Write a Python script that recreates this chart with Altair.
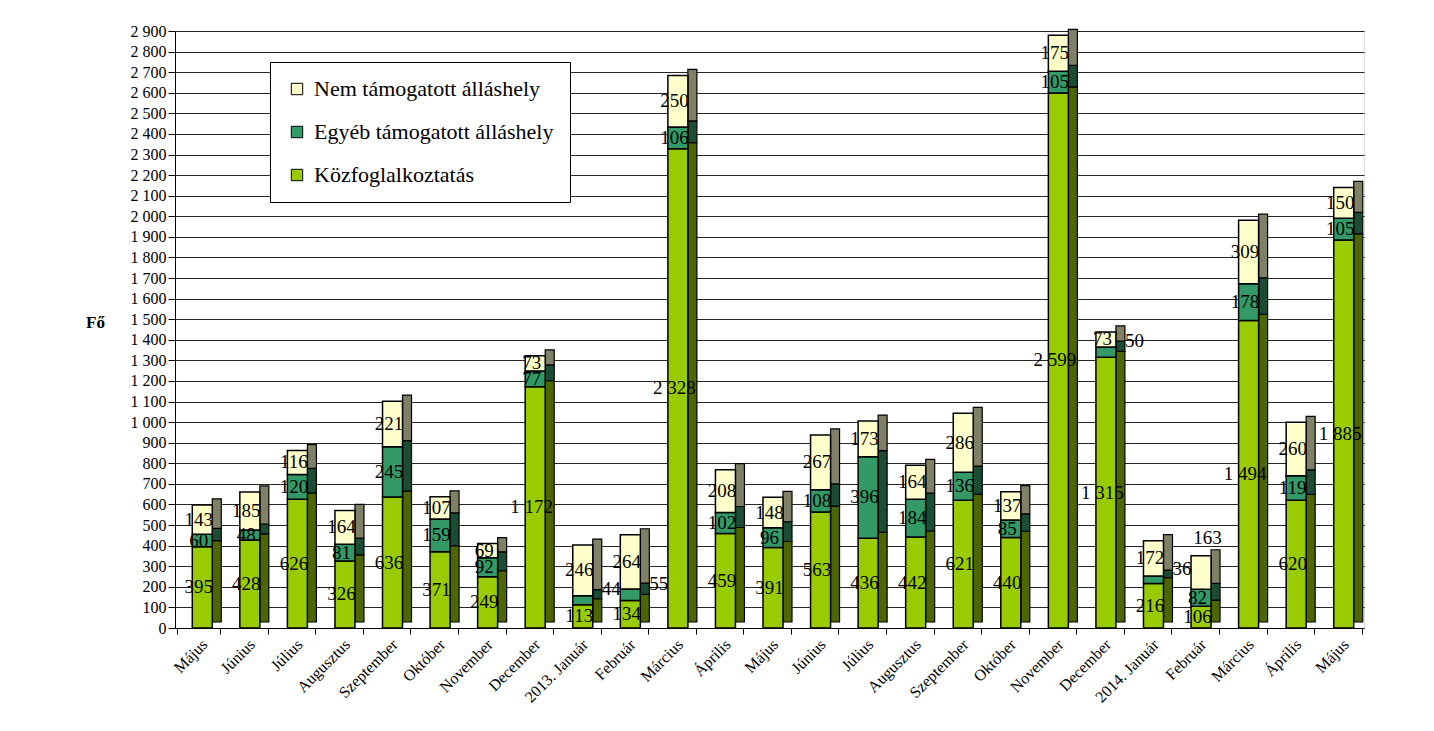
import altair as alt
import pandas as pd

months = ["Május", "Június", "Július", "Augusztus", "Szeptember", "Október", "November",
          "December", "2013. Január", "Február", "Március", "Április", "Május", "Június",
          "Július", "Augusztus", "Szeptember", "Október", "November", "December",
          "2014. Január", "Február", "Március", "Április", "Május"]
kozfog = [395, 428, 626, 326, 636, 371, 249, 1172, 113, 134, 2328, 459, 391, 563, 436,
          442, 621, 440, 2599, 1315, 216, 106, 1494, 620, 1885]
egyeb = [60, 48, 120, 81, 245, 159, 92, 77, 44, 55, 106, 102, 96, 108, 396, 184, 136,
         85, 105, 50, 36, 82, 178, 119, 105]
nem = [143, 185, 116, 164, 221, 107, 69, 73, 246, 264, 250, 208, 148, 267, 173, 164,
       286, 137, 175, 73, 172, 163, 309, 260, 150]
series = ["Közfoglalkoztatás", "Egyéb támogatott álláshely", "Nem támogatott álláshely"]
front_colors = ["#99CC00", "#339966", "#FFFFCC"]
side_colors = ["#4D6600", "#1A4D33", "#808066"]
# labels that the reference prints beside / above the bar: (month index, series index)
label_right = [(8, 1), (9, 1), (19, 1), (20, 1)]
label_above = [(21, 2)]

rows = []
for i in range(len(months)):
    for o, (s, vals) in enumerate(zip(series, [kozfog, egyeb, nem])):
        pos = "in"
        if (i, o) in label_right:
            pos = "right"
        elif (i, o) in label_above:
            pos = "above"
        rows.append({"idx": i, "series": s, "value": vals[i], "order": o, "pos": pos,
                     "label": f"{vals[i]:,}".replace(",", " ")})
df = pd.DataFrame(rows)

label_expr = "[" + ",".join("'" + m + "'" for m in months) + "][datum.value]"
FONT = "Liberation Serif"

x_axis = alt.Axis(labelExpr=label_expr, labelAngle=-45, labelFont=FONT,
                  labelFontSize=16, labelColor="black", domainColor="black",
                  tickColor="black", tickBand="extent", tickSize=6,
                  labelAlign="right", labelBaseline="top", labelPadding=2)
y_axis = alt.Axis(values=list(range(0, 3000, 100)), labelOverlap=False,
                  labelExpr="replace(format(datum.value, ','), ',', ' ')",
                  labelFont=FONT, labelFontSize=16, labelColor="black",
                  title="Fő", titleAngle=0, titleFont=FONT, titleFontSize=17,
                  titleFontWeight="bold", titleX=-80, titleY=300,
                  titleAlign="center", titleColor="black",
                  domainColor="black", tickColor="black", tickSize=7,
                  grid=True, gridColor="#000000", gridOpacity=0.85)
y_scale = alt.Scale(domain=[0, 2900], nice=False)

x_enc = alt.X("idx:O", title=None, axis=x_axis)
y_enc = alt.Y("value:Q", stack="zero", scale=y_scale, axis=y_axis, title="Fő")

base = alt.Chart(df)

side = base.mark_bar(size=9, xOffset=18, yOffset=-6, y2Offset=-6,
                     stroke="black", strokeWidth=1.2).encode(
    x=x_enc, y=y_enc,
    color=alt.Color("series:N", scale=alt.Scale(domain=series, range=side_colors), legend=None),
    order=alt.Order("order:Q", sort="ascending"),
)

front = base.mark_bar(size=20, xOffset=3.5, stroke="black", strokeWidth=1.5).encode(
    x=x_enc, y=y_enc,
    color=alt.Color("series:N",
                    scale=alt.Scale(domain=series[::-1], range=front_colors[::-1]),
                    legend=alt.Legend(title=None, orient="none", legendX=95, legendY=31,
                                      fillColor="white", strokeColor="black", padding=16,
                                      labelFont=FONT, labelFontSize=22, labelColor="black",
                                      symbolType="square", symbolSize=130,
                                      symbolStrokeColor="black", symbolStrokeWidth=1,
                                      rowPadding=21, labelLimit=400, labelOffset=6)),
    order=alt.Order("order:Q", sort="ascending"),
)

stacked = base.transform_stack(
    stack="value", groupby=["idx"], as_=["y0", "y1"],
    sort=[alt.SortField("order", order="ascending")]
).transform_calculate(
    mid="(datum.y0 + datum.y1) / 2"
)

def label_layer(cond, field, dx, dy):
    return stacked.transform_filter(cond).mark_text(
        font=FONT, fontSize=19, color="black", dx=dx, dy=dy).encode(
        x=alt.X("idx:O", title=None, axis=x_axis),
        y=alt.Y(field, scale=y_scale, axis=y_axis, title="Fő"),
        text="label:N")

text_in = label_layer("datum.pos == 'in'", "mid:Q", 0, 0)
text_right = label_layer("datum.pos == 'right'", "mid:Q", 32, -11)
text_above = label_layer("datum.pos == 'above'", "y1:Q", 10, -18)

chart = alt.layer(side, front, text_in, text_right, text_above).resolve_scale(
    color="independent").properties(
    width=1189, height=597,
    autosize=alt.AutoSizeParams(type="none"),
    padding={"left": 167, "top": 23, "right": 60, "bottom": 100},
).configure_view(fill="#C0C0C0", stroke="#808080").configure(background="white")

chart.save("out.html", embed_options={"renderer": "svg", "actions": False})
